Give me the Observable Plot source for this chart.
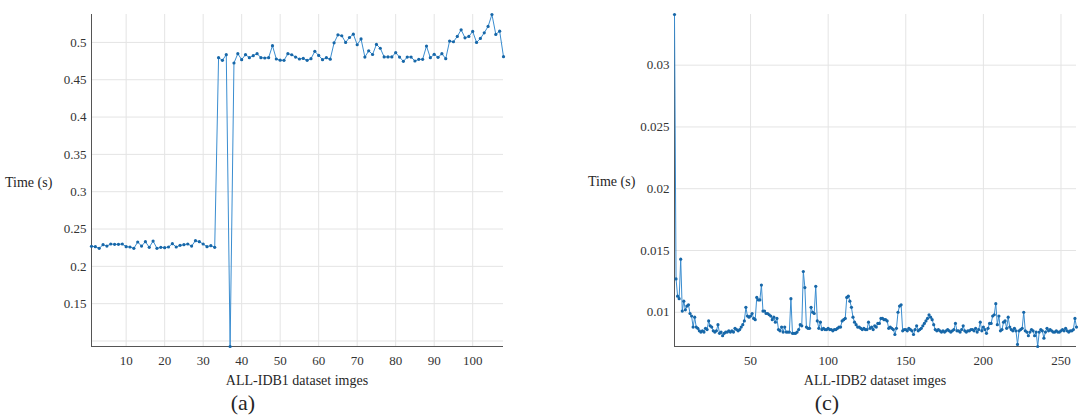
<!DOCTYPE html>
<html><head><meta charset="utf-8">
<script src="https://cdn.jsdelivr.net/npm/d3@7"></script>
<script src="https://cdn.jsdelivr.net/npm/@observablehq/plot@0.6"></script>
<style>
body{margin:0;background:#fff;width:1081px;height:416px;overflow:hidden;position:relative;font-family:"Liberation Serif","Times New Roman",serif;}
.lbl{position:absolute;color:#262626;white-space:nowrap;line-height:1;}
.c{text-align:center;}
#p1,#p2{position:absolute;top:0;}
#p1{left:0px} #p2{left:520px}
#p1 svg text, #p2 svg text{font-family:"Liberation Serif","Times New Roman",serif !important;font-size:13px !important;fill:#333;}
</style></head><body>
<div id="p1"></div><div id="p2"></div>
<div class="lbl" style="left:5px;top:176px;font-size:14px">Time (s)</div>
<div class="lbl" style="left:588px;top:175px;font-size:14px">Time (s)</div>
<div class="lbl c" style="left:147px;width:300px;top:374px;font-size:14px">ALL-IDB1 dataset imges</div>
<div class="lbl c" style="left:725px;width:300px;top:374px;font-size:14px">ALL-IDB2 dataset imges</div>
<div class="lbl c" style="left:193px;width:100px;top:392px;font-size:22px">(a)</div>
<div class="lbl c" style="left:777px;width:100px;top:392px;font-size:22px">(c)</div>
<script>
// Panel (a): ALL-IDB1, 108 images
const xTicksA = [10,20,30,40,50,60,70,80,90,100];
const yTicksA = [0.15,0.2,0.25,0.3,0.35,0.4,0.45,0.5];
const yGridA = [0.1,0.15,0.2,0.25,0.3,0.35,0.4,0.45,0.5];
const timeA = [
0.2268,0.2264,0.2241,0.2290,0.2272,0.2299,0.2295,0.2295,0.2299,0.2264,
0.2259,0.2241,0.2326,0.2272,0.2330,0.2255,0.2339,0.2241,0.2255,0.2250,
0.2259,0.2304,0.2259,0.2281,0.2290,0.2299,0.2272,0.2344,0.2330,0.2299,
0.2264,0.2277,0.2255,0.4796,0.4760,0.4836,0.0926,0.4724,0.4849,0.4769,
0.4836,0.4796,0.4822,0.4849,0.4796,0.4791,0.4796,0.4956,0.4778,0.4762,
0.4760,0.4849,0.4835,0.4804,0.4778,0.4786,0.4760,0.4782,0.4880,0.4826,
0.4769,0.4795,0.4775,0.4994,0.5102,0.5089,0.5000,0.5066,0.5111,0.4969,
0.5047,0.4804,0.4888,0.4838,0.4973,0.4922,0.4806,0.4806,0.4806,0.4862,
0.4804,0.4746,0.4804,0.4804,0.4751,0.4773,0.4773,0.4951,0.4795,0.4840,
0.4800,0.4849,0.4782,0.5018,0.5009,0.5080,0.5169,0.5062,0.5080,0.5147,
0.5000,0.5053,0.5129,0.5214,0.5374,0.5107,0.5151,0.4809];
const imgA = timeA.map((_, i) => i + 1);

// Panel (c): ALL-IDB2, 260 images
const xTicksC = [50,100,150,200,250];
const yTicksC = [0.01,0.015,0.02,0.025,0.03];
const timeC = [
0.0341,0.0127,0.0113,0.0111,0.0143,0.0101,0.0109,0.0102,0.0105,0.0106,
0.0099,0.0097,0.0088,0.0096,0.0088,0.0087,0.0085,0.0084,0.0085,0.0084,
0.0087,0.0086,0.0093,0.0089,0.0088,0.0085,0.0084,0.0085,0.0090,0.0083,
0.0084,0.0081,0.0083,0.0084,0.0084,0.0085,0.0084,0.0085,0.0084,0.0087,
0.0086,0.0085,0.0086,0.0088,0.0090,0.0093,0.0104,0.0097,0.0096,0.0097,
0.0099,0.0095,0.0094,0.0112,0.0110,0.0110,0.0122,0.0101,0.0101,0.0099,
0.0099,0.0098,0.0097,0.0094,0.0096,0.0092,0.0095,0.0086,0.0085,0.0088,
0.0084,0.0088,0.0084,0.0084,0.0084,0.0111,0.0083,0.0083,0.0083,0.0084,
0.0086,0.0090,0.0089,0.0133,0.0120,0.0088,0.0087,0.0087,0.0104,0.0100,
0.0099,0.0121,0.0093,0.0087,0.0092,0.0086,0.0087,0.0086,0.0086,0.0087,
0.0086,0.0086,0.0085,0.0086,0.0086,0.0087,0.0088,0.0088,0.0093,0.0094,
0.0095,0.0112,0.0113,0.0109,0.0104,0.0096,0.0092,0.0090,0.0088,0.0088,
0.0087,0.0086,0.0087,0.0086,0.0086,0.0092,0.0087,0.0088,0.0086,0.0089,
0.0088,0.0091,0.0091,0.0095,0.0095,0.0094,0.0094,0.0093,0.0087,0.0088,
0.0087,0.0086,0.0082,0.0087,0.0100,0.0105,0.0106,0.0085,0.0086,0.0086,
0.0085,0.0087,0.0086,0.0085,0.0082,0.0086,0.0089,0.0085,0.0086,0.0087,
0.0089,0.0091,0.0093,0.0095,0.0098,0.0096,0.0094,0.0090,0.0086,0.0085,
0.0086,0.0085,0.0084,0.0085,0.0084,0.0085,0.0086,0.0085,0.0084,0.0085,
0.0086,0.0091,0.0085,0.0085,0.0084,0.0086,0.0089,0.0085,0.0084,0.0085,
0.0085,0.0086,0.0086,0.0085,0.0087,0.0084,0.0086,0.0092,0.0085,0.0088,
0.0086,0.0083,0.0087,0.0091,0.0091,0.0097,0.0098,0.0107,0.0090,0.0097,
0.0085,0.0086,0.0092,0.0093,0.0087,0.0096,0.0088,0.0086,0.0085,0.0087,
0.0085,0.0074,0.0085,0.0086,0.0087,0.0100,0.0085,0.0084,0.0081,0.0084,
0.0086,0.0085,0.0081,0.0084,0.00723,0.0084,0.0086,0.0085,0.0079,0.0084,
0.0087,0.0085,0.0086,0.0085,0.0084,0.0084,0.0085,0.0084,0.0084,0.0085,
0.0086,0.0085,0.0087,0.0085,0.0084,0.0085,0.0085,0.0086,0.0095,0.0088];
const imgC = timeC.map((_, i) => i + 1);

const FONT = "Liberation Serif, Times New Roman, serif";

function panel({xs, ys, xTicks, yTicks, yGrid, width, marginLeft, marginRight}) {
  const data = xs.map((x, i) => ({x, y: ys[i]}));
  const xDomain = d3.extent(xs);
  const yDomain = d3.extent(ys);
  return Plot.plot({
    width, height: 372, marginTop: 14, marginBottom: 26, marginLeft, marginRight,
    style: {fontFamily: FONT, fontSize: "13px", background: "transparent", overflow: "visible"},
    x: {domain: xDomain},
    y: {domain: yDomain},
    marks: [
      Plot.gridX(xTicks, {stroke: "#e4e4e4", strokeOpacity: 1}),
      Plot.gridY(yGrid, {stroke: "#e4e4e4", strokeOpacity: 1}),
      Plot.axisX(xTicks, {tickSize: 0, tickPadding: 9, label: null, fontSize: 13, fontFamily: FONT, fill: "#333"}),
      Plot.axisY(yTicks, {tickSize: 0, tickPadding: 5, label: null, fontSize: 13, fontFamily: FONT, fill: "#333", tickFormat: d => String(+d.toFixed(4))}),
      Plot.ruleX([xDomain[0]], {stroke: "#555", strokeWidth: 1}),
      Plot.ruleY([yDomain[0]], {stroke: "#555", strokeWidth: 1}),
      Plot.line(data, {x: "x", y: "y", stroke: "#3a8dd0", strokeWidth: 1}),
      Plot.dot(data, {x: "x", y: "y", r: 1.6, fill: "#1767a8", stroke: "none"})
    ]
  });
}

document.getElementById("p1").append(panel({
  xs: imgA, ys: timeA, xTicks: xTicksA, yTicks: yTicksA, yGrid: yGridA,
  width: 520, marginLeft: 91, marginRight: 17
}));
document.getElementById("p2").append(panel({
  xs: imgC, ys: timeC, xTicks: xTicksC, yTicks: yTicksC, yGrid: yTicksC,
  width: 561, marginLeft: 154, marginRight: 5
}));
</script>
</body></html>
